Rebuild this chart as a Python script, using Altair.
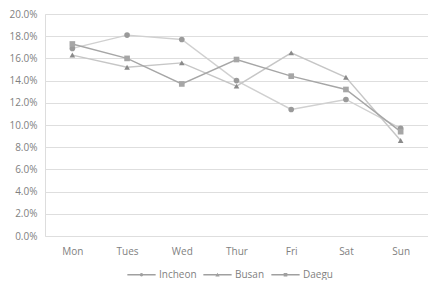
import altair as alt
import pandas as pd

days = ["Mon", "Tues", "Wed", "Thur", "Fri", "Sat", "Sun"]
series = ["Incheon", "Busan", "Daegu"]
incheon = [0.169, 0.181, 0.177, 0.140, 0.114, 0.123, 0.097]
busan = [0.163, 0.152, 0.156, 0.135, 0.165, 0.143, 0.086]
daegu = [0.173, 0.160, 0.137, 0.159, 0.144, 0.132, 0.094]
y_ticks = [0.0, 0.02, 0.04, 0.06, 0.08, 0.10, 0.12, 0.14, 0.16, 0.18, 0.20]

line_colors = ["#d0d0d0", "#c6c6c6", "#a6a6a6"]
marker_colors = ["#9a9a9a", "#8a8a8a", "#a6a6a6"]

rows = []
for name, vals in zip(series, [incheon, busan, daegu]):
    for d, v in zip(days, vals):
        rows.append({"day": d, "series": name, "value": v})
df = pd.DataFrame(rows)

FONT = "Open Sans"
x_enc = alt.X("day:N", sort=days, title=None,
              scale=alt.Scale(type="point", padding=0.5),
              axis=alt.Axis(labelAngle=0, ticks=False, domain=False, labelPadding=10,
                            labelColor="#7f7f7f", labelFontSize=10, labelFont=FONT, grid=False))
y_enc = alt.Y("value:Q", title=None,
              scale=alt.Scale(domain=[0, 0.2], nice=False),
              axis=alt.Axis(format=".1%", values=y_ticks, ticks=False, domain=False,
                            labelColor="#7f7f7f", labelFontSize=10, labelFont=FONT,
                            labelPadding=8, gridColor="#dedede", gridWidth=1))

base = alt.Chart(df).encode(x=x_enc, y=y_enc)

lines = base.mark_line(strokeWidth=1.4).encode(
    color=alt.Color("series:N", scale=alt.Scale(domain=series, range=line_colors), legend=None),
    detail="series:N",
)
points = base.mark_point(filled=True, size=32, opacity=1).encode(
    shape=alt.Shape("series:N", scale=alt.Scale(domain=series, range=["circle", "triangle-up", "square"]), legend=None),
    fill=alt.Fill("series:N", scale=alt.Scale(domain=series, range=marker_colors), legend=None),
)

legend_paths = [
    "M-1,-0.045H1V0.045H-1Z M0.12,0A0.12,0.12,0,1,1,-0.12,0A0.12,0.12,0,1,1,0.12,0Z",
    "M-1,-0.045H1V0.045H-1Z M0,-0.15L0.15,0.12L-0.15,0.12Z",
    "M-1,-0.045H1V0.045H-1Z M-0.13,-0.13H0.13V0.13H-0.13Z",
]
legend_layer = base.mark_point(filled=True, opacity=0, color="#a0a0a0").encode(
    shape=alt.Shape("series:N", scale=alt.Scale(domain=series, range=legend_paths),
                    legend=alt.Legend(title=None, orient="none", direction="horizontal",
                                      legendX=82, legendY=246,
                                      symbolSize=800, symbolOpacity=1, symbolFillColor="#a0a0a0",
                                      symbolStrokeColor="#a0a0a0", symbolStrokeWidth=0,
                                      labelColor="#7f7f7f", labelFontSize=10, labelFont=FONT,
                                      columnPadding=6, labelOffset=3)),
)

chart = alt.layer(lines, points, legend_layer).resolve_scale(
    color="independent", shape="independent", fill="independent"
).properties(
    width=383, height=222,
    padding={"left": 0, "top": 1, "right": 0, "bottom": 0},
).configure_view(stroke=None).configure(background="white")

chart.save("out.html", embed_options={"renderer": "svg", "actions": False})
